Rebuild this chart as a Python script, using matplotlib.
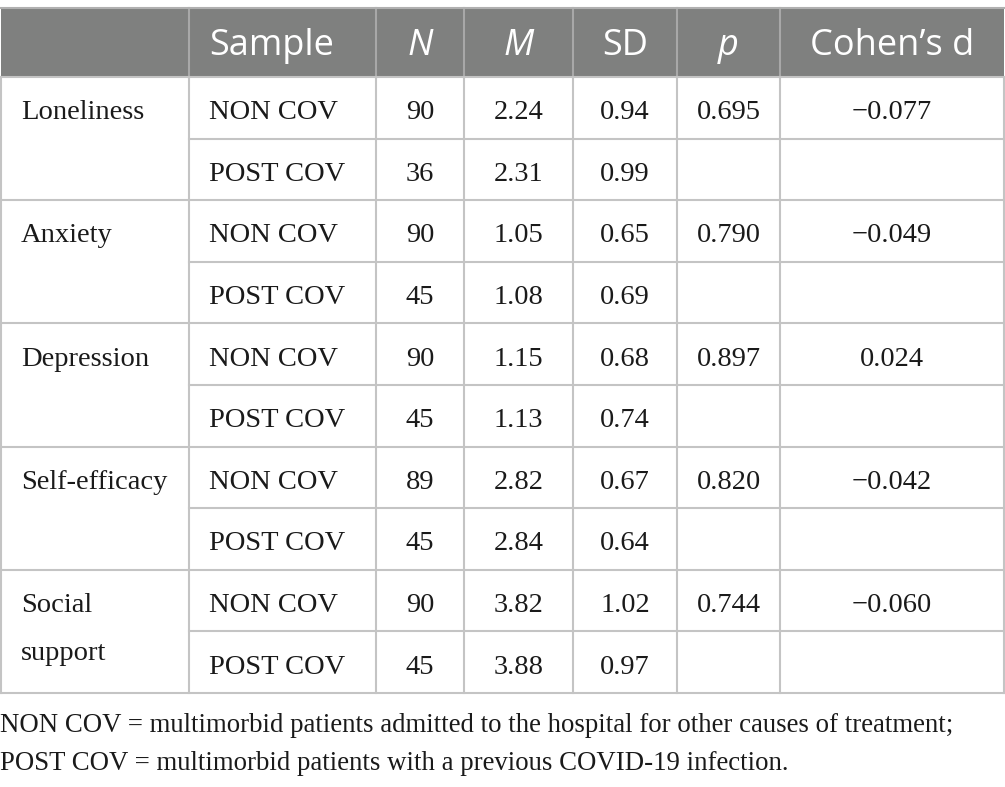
import matplotlib
matplotlib.use("Agg")
import matplotlib.pyplot as plt

variables = ["Loneliness", "Anxiety", "Depression", "Self-efficacy", "Social\nsupport"]
samples = ["NON COV", "POST COV"]
n_vals = [[90, 36], [90, 45], [90, 45], [89, 45], [90, 45]]
m_vals = [["2.24", "2.31"], ["1.05", "1.08"], ["1.15", "1.13"], ["2.82", "2.84"], ["3.82", "3.88"]]
sd_vals = [["0.94", "0.99"], ["0.65", "0.69"], ["0.68", "0.74"], ["0.67", "0.64"], ["1.02", "0.97"]]
p_vals = ["0.695", "0.790", "0.897", "0.820", "0.744"]
d_vals = ["\u22120.077", "\u22120.049", "0.024", "\u22120.042", "\u22120.060"]
headers = ["", "Sample", "N", "M", "SD", "p", "Cohen\u2019s d"]
header_italic = [False, False, True, True, False, True, False]
footnote = ["NON COV = multimorbid patients admitted to the hospital for other causes of treatment;",
            "POST COV = multimorbid patients with a previous COVID-19 infection."]

W, H = 1005, 787
fig = plt.figure(figsize=(W / 100, H / 100), dpi=100)
ax = fig.add_axes([0, 0, 1, 1])
ax.set_xlim(0, W)
ax.set_ylim(H, 0)
ax.axis("off")

col_edges = [1, 189, 376, 464, 573, 677, 780, 1004]
top = 8
head_bot = 77
row_h = 61.6
n_rows = 10
bottom = head_bot + row_h * n_rows

header_bg = "#7f807f"
line_c = "#c4c4c4"
txt_c = "#1a1a1a"
serif = "Liberation Serif"
sans = "Open Sans"
body_fs = 20.5
head_fs = 26
base_off = 11.5

# header background
ax.add_patch(plt.Rectangle((col_edges[0], top), col_edges[-1] - col_edges[0], head_bot - top,
                           facecolor=header_bg, edgecolor="none", zorder=1))
for x in col_edges[1:-1]:
    ax.plot([x, x], [top, head_bot], color="#a8a8a8", lw=1.5, zorder=2)
ax.plot([col_edges[0], col_edges[-1]], [top, top], color="#b0b0b0", lw=1.5, zorder=2)

for i, h in enumerate(headers):
    if not h:
        continue
    cxh = (col_edges[i] + col_edges[i + 1]) / 2
    ha = "center"
    if i == 1:
        cxh = col_edges[1] + 20
        ha = "left"
    ax.text(cxh, (top + head_bot) / 2 + 12.5, h, color="white", fontsize=head_fs, family=sans,
            style="italic" if header_italic[i] else "normal", ha=ha, va="baseline", zorder=3)

# body grid
for x in col_edges:
    ax.plot([x, x], [head_bot, bottom], color=line_c, lw=1.5, zorder=2)
for r in range(n_rows + 1):
    y = head_bot + r * row_h
    x0 = col_edges[0] if r % 2 == 0 else col_edges[1]
    ax.plot([x0, col_edges[-1]], [y, y], color=line_c, lw=1.5, zorder=2)

def cx(i):
    return (col_edges[i] + col_edges[i + 1]) / 2

def put(x, y, s, ha="center"):
    ax.text(x, y, s, fontsize=body_fs, family=serif, ha=ha, va="baseline", color=txt_c, zorder=3)

for g, var in enumerate(variables):
    y0 = head_bot + (2 * g + 0.5) * row_h + base_off
    for k, ln in enumerate(var.split("\n")):
        put(col_edges[0] + 20, y0 + k * 48, ln, ha="left")
    for s in range(2):
        y = head_bot + (2 * g + s + 0.5) * row_h + base_off
        put(col_edges[1] + 20, y, samples[s], ha="left")
        put(cx(2), y, str(n_vals[g][s]))
        put(cx(3), y, m_vals[g][s])
        put(cx(4), y, sd_vals[g][s])
    put(cx(5), y0, p_vals[g])
    put(cx(6), y0, d_vals[g])

for k, ln in enumerate(footnote):
    ax.text(0, 732 + k * 38, ln, fontsize=19.3, family=serif, ha="left", va="baseline", color=txt_c)

fig.savefig("out.png", dpi=100)
